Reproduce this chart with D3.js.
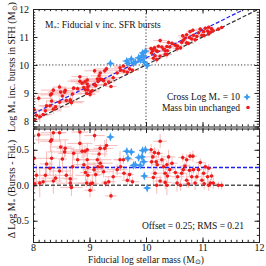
<!DOCTYPE html>
<html><head><meta charset="utf-8">
<script src="https://cdn.jsdelivr.net/npm/d3@7"></script>
<style>
body{margin:0;background:#fff}
svg{display:block}
text{font-family:"Liberation Serif","Times New Roman",serif;fill:#111}
</style>
</head><body>
<svg id="c" width="266" height="266"></svg>
<script>
// ---- data ----
const redMass = [8.03,8.06,8.02,8.10,8.12,8.18,8.22,8.24,8.30,8.31,
 8.33,8.33,8.36,8.36,8.40,8.47,8.47,8.49,8.52,8.56,
 8.57,8.59,8.66,8.66,8.68,8.70,8.72,8.79,8.83,8.83,
 8.87,8.90,8.92,8.93,8.95,8.96,8.96,8.97,8.97,9.01,
 9.02,9.05,9.08,9.09,9.11,9.14,9.15,9.17,9.19,9.19,
 9.22,9.25,9.27,9.28,9.30,9.34,9.38,9.42,9.49,9.54,
 9.55,9.61,9.67,9.60,9.71,9.76,
 10.09,10.10,10.12,10.13,10.15,10.16,10.18,10.19,10.20,10.22,
 10.25,10.25,10.28,10.31,10.34,10.34,10.37,10.37,10.38,10.40,
 10.42,10.46,10.52,10.55,10.56,10.61,10.63,10.65,10.66,10.69,
 10.72,10.72,10.75,10.77,10.78,10.81,10.83,10.84,10.87,10.90,
 10.93,10.96,10.99,11.02,11.03,11.05,11.09,11.11,11.11,11.14,
 11.16,11.19,11.28,11.34];
const redDelta = [0.02,0.14,0.38,0.71,0.03,0.05,0.14,0.30,0.24,0.62,
 0.64,0.38,0.74,0.06,0.10,0.74,0.20,0.54,0.37,0.47,
 0.52,0.14,0.03,0.09,-0.03,0.26,0.45,0.36,0.59,0.75,
 0.48,0.29,0.48,0.18,0.03,0.50,0.36,0.25,0.14,-0.07,
 0.02,0.03,0.22,0.70,0.15,0.36,0.26,0.44,0.31,0.52,
 0.26,0.19,0.52,0.03,0.56,0.05,-0.15,0.12,0.22,0.36,
 0.26,0.17,0.07,0.36,0.15,0.05,
 0.50,0.33,0.40,0.11,0.46,0.17,0.33,0.00,0.29,0.45,
 0.62,0.06,0.36,0.26,0.17,0.04,0.00,0.29,0.13,0.40,
 0.22,0.31,0.18,0.03,0.12,0.00,0.17,0.39,0.22,0.27,
 0.36,0.07,0.02,0.21,0.41,0.12,0.41,0.22,0.03,0.12,
 0.22,0.32,0.07,0.17,0.02,0.26,0.12,0.24,0.00,0.03,
 0.13,0.03,0.00,0.00];
const redMassErr = [0.10,0.22,0.30,0.25,0.08,0.15,0.28,0.12,0.20,0.18,
 0.30,0.10,0.22,0.15,0.25,0.12,0.18,0.20,0.08,0.30,
 0.15,0.10,0.25,0.12,0.20,0.18,0.28,0.10,0.22,0.15,
 0.12,0.20,0.25,0.10,0.15,0.30,0.18,0.12,0.22,0.10,
 0.15,0.08,0.20,0.18,0.12,0.25,0.10,0.15,0.22,0.12,
 0.10,0.18,0.15,0.08,0.20,0.12,0.10,0.15,0.18,0.10,
 0.12,0.15,0.10,0.18,0.08,0.12,
 0.10,0.08,0.12,0.15,0.10,0.08,0.12,0.06,0.10,0.08,
 0.12,0.10,0.08,0.06,0.10,0.12,0.08,0.10,0.06,0.12,
 0.08,0.10,0.06,0.08,0.12,0.06,0.10,0.08,0.06,0.10,
 0.08,0.06,0.10,0.08,0.06,0.10,0.08,0.06,0.05,0.08,
 0.06,0.08,0.05,0.06,0.08,0.05,0.06,0.08,0.05,0.06,
 0.05,0.06,0.05,0.04];
const redDeltaErr = [0.08,0.15,0.10,0.12,0.20,0.06,0.12,0.18,0.10,0.15,
 0.08,0.12,0.10,0.18,0.06,0.12,0.15,0.10,0.20,0.08,
 0.12,0.10,0.06,0.15,0.12,0.20,0.08,0.10,0.14,0.06,
 0.10,0.15,0.08,0.12,0.06,0.10,0.16,0.08,0.12,0.10,
 0.06,0.12,0.10,0.08,0.15,0.06,0.10,0.12,0.08,0.06,
 0.10,0.08,0.12,0.06,0.10,0.08,0.06,0.10,0.08,0.12,
 0.06,0.10,0.08,0.06,0.10,0.06,
 0.08,0.10,0.06,0.12,0.08,0.06,0.10,0.12,0.08,0.06,
 0.10,0.08,0.06,0.12,0.08,0.10,0.14,0.06,0.08,0.10,
 0.06,0.08,0.10,0.12,0.06,0.08,0.10,0.06,0.08,0.06,
 0.08,0.10,0.06,0.08,0.06,0.10,0.08,0.06,0.10,0.06,
 0.08,0.06,0.10,0.06,0.08,0.06,0.10,0.06,0.08,0.06,
 0.06,0.08,0.05,0.06];
const blueMass = [9.37,9.66,9.68,9.74,9.78,9.81,9.87,9.90,9.93,9.94,9.96,9.97,9.99,10.02];
const blueDelta = [0.68,0.48,0.38,0.47,0.28,0.29,0.39,0.28,0.40,0.49,0.33,0.13,0.50,-0.04];
const blueMassErr = [0.06,0.08,0.05,0.06,0.05,0.08,0.06,0.05,0.06,0.05,0.06,0.05,0.06,0.05];
const blueDeltaErr = [0.06,0.05,0.06,0.05,0.06,0.05,0.06,0.05,0.06,0.05,0.04,0.06,0.05,0.06];
const offset = 0.25, rms = 0.21, massCut = 10;
const xTicks = [8,9,10,11,12];
const yTopTicks = [8,9,10,11,12];
const yBotTicks = [-0.5,0.0,0.5];

// ---- layout ----
const svg = d3.select("#c");
const L = 33, R = 259;
const x = d3.scaleLinear([8,12],[L,R]);
const yT = d3.scaleLinear([7.8,12],[126.5,9]);
const yB = d3.scaleLinear([-0.8,0.8],[242,128.5]);

const red = redMass.map((m,i)=>({m, d:redDelta[i], em:redMassErr[i], ed:redDeltaErr[i]}));
const blue = blueMass.map((m,i)=>({m, d:blueDelta[i], em:blueMassErr[i], ed:blueDeltaErr[i]}));

const defs = svg.append("defs");
function clip(id, y){
  defs.append("clipPath").attr("id",id).append("rect")
    .attr("x",L).attr("y",y.range()[1]).attr("width",R-L).attr("height",y.range()[0]-y.range()[1]);
}
clip("cT", yT); clip("cB", yB);

const starPath = (r)=>{const w=r*0.3;return `M0,${-r}L${w},${-w}L${r},0L${w},${w}L0,${r}L${-w},${w}L${-r},0L${-w},${-w}Z`;};
const RED="#ee1c1c", BLUE="#3a9af2", PINK="#f6b3b3", LBLUE="#a9d0f6";

function panel(y, yval, clipId, lines){
  const g = svg.append("g").attr("clip-path",`url(#${clipId})`);
  const eb = (data, col)=>{
    data.forEach(p=>{
      g.append("line").attr("x1",x(p.m-p.em)).attr("x2",x(p.m+p.em))
        .attr("y1",y(yval(p))).attr("y2",y(yval(p))).attr("stroke",col).attr("stroke-width",0.9);
      g.append("line").attr("x1",x(p.m)).attr("x2",x(p.m))
        .attr("y1",y(yval(p)-p.ed)).attr("y2",y(yval(p)+p.ed)).attr("stroke",col).attr("stroke-width",0.9);
    });
  };
  eb(red, PINK); eb(blue, LBLUE);
  lines(g);
  g.selectAll(".r").data(red).join("circle").attr("cx",p=>x(p.m)).attr("cy",p=>y(yval(p)))
    .attr("r",1.8).attr("fill",RED);
  g.selectAll(".b").data(blue).join("path").attr("d",starPath(4.2))
    .attr("transform",p=>`translate(${x(p.m)},${y(yval(p))})`).attr("fill",BLUE);
}

panel(yT, p=>p.m+p.d, "cT", g=>{
  g.append("line").attr("x1",x(8)).attr("x2",x(12)).attr("y1",yT(massCut)).attr("y2",yT(massCut))
    .attr("stroke","#333").attr("stroke-dasharray","1.2,2").attr("stroke-width",1);
  g.append("line").attr("x1",x(massCut)).attr("x2",x(massCut)).attr("y1",yT(7.8)).attr("y2",yT(12))
    .attr("stroke","#333").attr("stroke-dasharray","1.2,2").attr("stroke-width",1);
  g.append("line").attr("x1",x(8)).attr("x2",x(12)).attr("y1",yT(8)).attr("y2",yT(12))
    .attr("stroke","#333").attr("stroke-dasharray","4,2").attr("stroke-width",1.2);
  g.append("line").attr("x1",x(8)).attr("x2",x(12)).attr("y1",yT(8+offset)).attr("y2",yT(12+offset))
    .attr("stroke","#2020f0").attr("stroke-dasharray","4,2").attr("stroke-width",1.2);
});
panel(yB, p=>p.d, "cB", g=>{
  g.append("line").attr("x1",x(8)).attr("x2",x(12)).attr("y1",yB(0)).attr("y2",yB(0))
    .attr("stroke","#555").attr("stroke-dasharray","4,2").attr("stroke-width",1.6);
  g.append("line").attr("x1",x(8)).attr("x2",x(12)).attr("y1",yB(offset)).attr("y2",yB(offset))
    .attr("stroke","#2020f0").attr("stroke-dasharray","4,2").attr("stroke-width",1.4);
});

function frame(y, majorY, minorStep, showX){
  const [y0,y1] = y.domain();
  const minorX = d3.range(8,12.0001,0.1).map(v=>+v.toFixed(2));
  const minorY = d3.range(Math.ceil(y0/minorStep)*minorStep, y1+1e-6, minorStep).map(v=>+v.toFixed(2));
  const mk = (axis, tr, vals, size, fmt, domain, pad)=>{
    const a = svg.append("g").attr("transform",tr)
      .call(axis.tickValues(vals).tickSize(-size).tickPadding(pad).tickFormat(fmt));
    if(!domain) a.select(".domain").remove();
    else a.select(".domain").attr("stroke","#222");
    a.selectAll("line").attr("stroke","#222");
    a.selectAll("text").attr("font-size",10).attr("font-family","Liberation Serif, serif").attr("fill","#111");
    return a;
  };
  const yb = y.range()[0], yt = y.range()[1];
  mk(d3.axisBottom(x), `translate(0,${yb})`, xTicks, 4.5, showX? d3.format("d"): ()=>"", true, 1.5);
  mk(d3.axisBottom(x), `translate(0,${yb})`, minorX, 2.2, ()=>"", false, 2);
  mk(d3.axisTop(x), `translate(0,${yt})`, xTicks, 4.5, ()=>"", true, 2);
  mk(d3.axisTop(x), `translate(0,${yt})`, minorX, 2.2, ()=>"", false, 2);
  mk(d3.axisLeft(y), `translate(${L},0)`, majorY, 4.5, showX? d3.format(".1f"): d3.format("d"), true, 4);
  mk(d3.axisLeft(y), `translate(${L},0)`, minorY, 2.2, ()=>"", false, 4);
  mk(d3.axisRight(y), `translate(${R},0)`, majorY, 4.5, ()=>"", true, 4);
  mk(d3.axisRight(y), `translate(${R},0)`, minorY, 2.2, ()=>"", false, 4);
}
frame(yT, yTopTicks, 0.1, false);
frame(yB, yBotTicks, 0.1, true);
svg.selectAll(".tick text").filter(function(){return this.textContent==="−0.5";}).text("-0.5");

const t = (xx,yy,anchor,size)=>svg.append("text").attr("x",xx).attr("y",yy)
  .attr("text-anchor",anchor).attr("font-size",size);
const sub = (el, s)=>el.append("tspan").attr("font-size","70%").attr("dy",2).text(s);
const up = (el, s)=>el.append("tspan").attr("dy",-2).text(s);

let tt = t(45,28,"start",9.5); tt.append("tspan").text("M"); sub(tt,"*"); up(tt,": Fiducial v inc. SFR bursts");

let l1 = t(240,100,"end",9.5); l1.append("tspan").text("Cross Log M"); sub(l1,"*"); up(l1," = 10");
svg.append("path").attr("d",starPath(3.8)).attr("transform",`translate(247,97)`).attr("fill",BLUE);
t(240,110.5,"end",9.5).text("Mass bin unchanged");
svg.append("circle").attr("cx",248).attr("cy",107.5).attr("r",1.8).attr("fill",RED);

t(244,229,"end",9.5).text(`Offset = ${offset.toFixed(2)}; RMS = ${rms.toFixed(2)}`);

let xl = svg.append("text").attr("x",146).attr("y",262.5).attr("text-anchor","middle").attr("font-size",9.5);
xl.append("tspan").text("Fiducial log stellar mass (M"); 
xl.append("tspan").attr("font-size","70%").attr("dy",1.5).text("⊙");
xl.append("tspan").attr("dy",-1.5).text(")");

let yl1 = svg.append("text").attr("transform","translate(15,67) rotate(-90)").attr("text-anchor","middle").attr("font-size",10);
yl1.append("tspan").text("Log M"); sub(yl1,"*"); up(yl1," inc. bursts in SFH (M"); sub(yl1,"⊙"); up(yl1,")");

let yl2 = svg.append("text").attr("transform","translate(15,189) rotate(-90)").attr("text-anchor","middle").attr("font-size",10);
yl2.append("tspan").text("Δ Log M"); sub(yl2,"*"); up(yl2," (Bursts - Fid.)");
</script>
</body></html>
